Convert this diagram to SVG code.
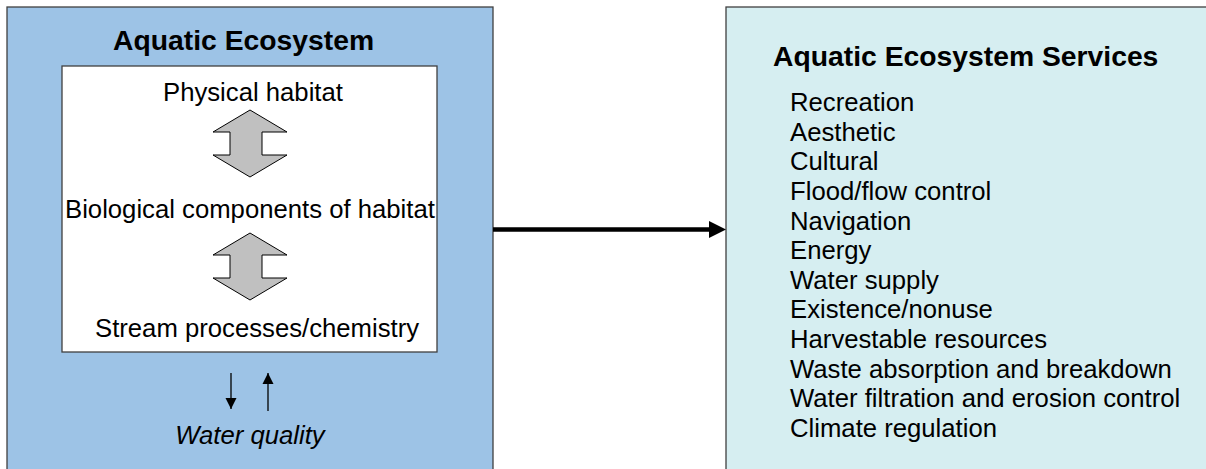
<svg xmlns="http://www.w3.org/2000/svg" width="1206" height="469" viewBox="0 0 1206 469">
  <style>
    .box { stroke: #404040; stroke-width: 1.3; }
    .title { font-family: "Liberation Sans", Arial, sans-serif; font-weight: bold; font-size: 28.3px; fill: #000; }
    .label { font-family: "Liberation Sans", Arial, sans-serif; font-size: 25.7px; fill: #000; }
    .dbl { fill: #c0c0c0; stroke: #000; stroke-width: 1; stroke-linejoin: miter; }
  </style>
  <defs>
    <marker id="tip" markerWidth="11" markerHeight="12" refX="11" refY="6" orient="auto" markerUnits="userSpaceOnUse">
      <path d="M0,0.5 L11,6 L0,11.5 Z" fill="#000"/>
    </marker>
  </defs>

  <rect width="1206" height="469" fill="#ffffff"/>

  <!-- Left panel: the ecosystem -->
  <g id="aquatic-ecosystem">
    <rect class="box" x="7" y="7" width="486" height="480" fill="#9dc3e6"/>
    <text class="title" x="113" y="50">Aquatic Ecosystem</text>
    <g id="habitat-stack">
      <rect class="box" x="62" y="66" width="375" height="286" fill="#ffffff"/>
      <text class="label" x="163" y="101">Physical habitat</text>
      <text class="label" x="65" y="218">Biological components of habitat</text>
      <text class="label" x="95" y="337">Stream processes/chemistry</text>
      <polygon class="dbl" points="250,110 287,132 262,132 262,155 287,155 250,177 213,155 230,155 230,132 213,132"/>
      <polygon class="dbl" points="250,233 287,255 262,255 262,278 287,278 250,300 213,278 230,278 230,255 213,255"/>
    </g>
    <g id="water-quality">
      <line x1="231" y1="373" x2="231" y2="409" stroke="#000" stroke-width="1.3" marker-end="url(#tip)"/>
      <line x1="268" y1="411" x2="268" y2="373" stroke="#000" stroke-width="1.3" marker-end="url(#tip)"/>
      <text class="label" x="250" y="444" text-anchor="middle" font-style="italic">Water quality</text>
    </g>
  </g>

  <!-- Right panel: the services -->
  <g id="ecosystem-services">
    <rect class="box" x="726" y="7" width="500" height="480" fill="#d6eef1"/>
    <text class="title" x="773" y="66">Aquatic Ecosystem Services</text>
    <g class="label">
      <text x="790" y="111">Recreation</text>
      <text x="790" y="140.6">Aesthetic</text>
      <text x="790" y="170.3">Cultural</text>
      <text x="790" y="199.9">Flood/flow control</text>
      <text x="790" y="229.5">Navigation</text>
      <text x="790" y="259.2">Energy</text>
      <text x="790" y="288.8">Water supply</text>
      <text x="790" y="318.4">Existence/nonuse</text>
      <text x="790" y="348.1">Harvestable resources</text>
      <text x="790" y="377.7">Waste absorption and breakdown</text>
      <text x="790" y="407.3">Water filtration and erosion control</text>
      <text x="790" y="437">Climate regulation</text>
    </g>
  </g>

  <!-- Connectors -->
  <g id="connectors">
    <line x1="493" y1="229.5" x2="711" y2="229.5" stroke="#000" stroke-width="4.5"/>
    <polygon points="709,221 726,229.5 709,238" fill="#000"/>
  </g>
</svg>
